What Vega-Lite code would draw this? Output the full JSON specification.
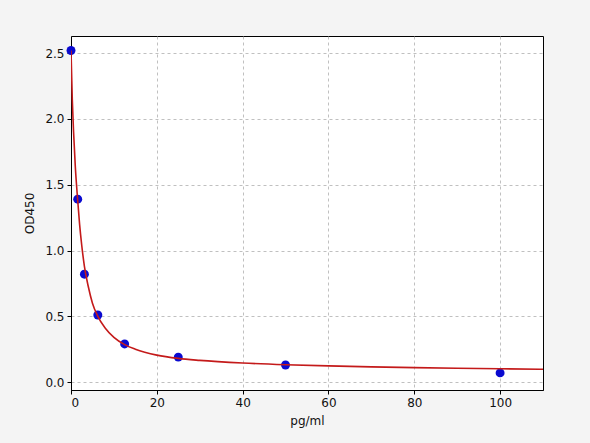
{
  "$schema": "https://vega.github.io/schema/vega-lite/v6.json",
  "width": 472,
  "height": 354,
  "autosize": "none",
  "padding": {"left": 71, "top": 36, "right": 47, "bottom": 53},
  "background": "#f4f4f4",
  "datasets": {
    "points": [
      {"conc": 0, "od": 2.52},
      {"conc": 1.5625, "od": 1.39},
      {"conc": 3.125, "od": 0.82},
      {"conc": 6.25, "od": 0.51},
      {"conc": 12.5, "od": 0.29},
      {"conc": 25, "od": 0.19},
      {"conc": 50, "od": 0.13},
      {"conc": 100, "od": 0.07}
    ],
    "curve": [
      {"conc": 0, "od": 2.52},
      {"conc": 0.3, "od": 2.15},
      {"conc": 0.6, "od": 1.9},
      {"conc": 1, "od": 1.64},
      {"conc": 1.5625, "od": 1.38},
      {"conc": 2, "od": 1.2},
      {"conc": 2.5, "od": 1.04},
      {"conc": 3.125, "od": 0.88},
      {"conc": 4, "od": 0.73},
      {"conc": 5, "od": 0.6},
      {"conc": 6.25, "od": 0.5},
      {"conc": 8, "od": 0.41},
      {"conc": 10, "od": 0.34},
      {"conc": 12.5, "od": 0.285},
      {"conc": 15, "od": 0.25},
      {"conc": 20, "od": 0.205},
      {"conc": 25, "od": 0.18},
      {"conc": 30, "od": 0.165},
      {"conc": 40, "od": 0.145},
      {"conc": 50, "od": 0.132},
      {"conc": 60, "od": 0.123},
      {"conc": 70, "od": 0.116},
      {"conc": 80, "od": 0.11},
      {"conc": 90, "od": 0.105},
      {"conc": 100, "od": 0.101},
      {"conc": 110, "od": 0.098}
    ]
  },
  "encoding": {
    "x": {
      "field": "conc",
      "type": "quantitative",
      "title": "pg/ml",
      "scale": {"domain": [0, 110], "nice": false, "zero": false},
      "axis": {"values": [0, 20, 40, 60, 80, 100], "format": "d"}
    },
    "y": {
      "field": "od",
      "type": "quantitative",
      "title": "OD450",
      "scale": {"domain": [-0.06, 2.63], "nice": false, "zero": false},
      "axis": {"values": [0, 0.5, 1, 1.5, 2, 2.5], "format": ".1f"}
    }
  },
  "layer": [
    {
      "data": {"name": "points"},
      "mark": {"type": "point", "filled": true, "color": "#0a0ad0", "size": 80, "opacity": 1, "clip": false}
    },
    {
      "data": {"name": "curve"},
      "mark": {"type": "line", "color": "#c41a1a", "strokeWidth": 1.6, "interpolate": "monotone", "clip": true}
    }
  ],
  "config": {
    "font": "DejaVu Sans",
    "view": {"fill": "white", "stroke": "black", "strokeWidth": 1},
    "axis": {
      "grid": true,
      "gridColor": "#b0b0b0",
      "gridDash": [3, 3],
      "gridWidth": 0.8,
      "domain": true,
      "domainColor": "black",
      "domainWidth": 1,
      "tickColor": "black",
      "tickSize": 4,
      "labelFont": "DejaVu Sans",
      "labelFontSize": 12,
      "labelColor": "#111",
      "titleFont": "DejaVu Sans",
      "titleFontSize": 12,
      "titleFontWeight": "normal",
      "titleColor": "#111",
      "labelPadding": 3
    },
    "axisX": {"titlePadding": 7},
    "axisY": {"titlePadding": 8}
  }
}
